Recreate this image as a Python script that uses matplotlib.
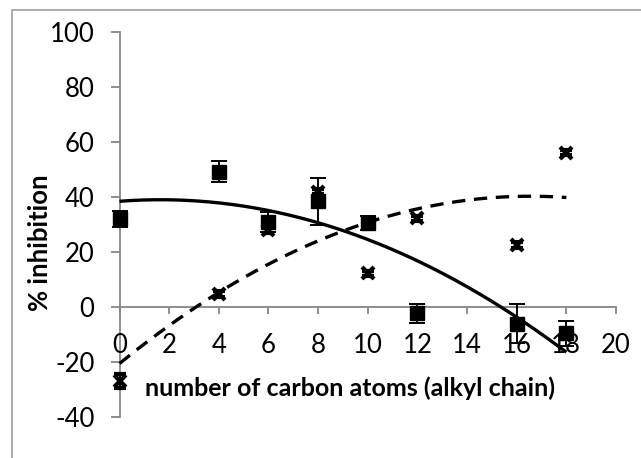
import numpy as np
import matplotlib
matplotlib.use("Agg")
import matplotlib.pyplot as plt
from matplotlib.patches import Rectangle

# ---- data ----
carbons = [0, 4, 6, 8, 10, 12, 16, 18]
sq_values = [32, 49.3, 31, 38.5, 30.7, -2.3, -6, -9.6]
sq_errors = [3, 3.8, 3.5, 8.5, 2.5, 3.5, 7, 4.5]
x_values = [-27, 4.8, 28, 42, 12.3, 32.3, 22.6, 56.2]
x_errors = [2.5, 1, 1, 1, 1, 1, 1, 1]
x_ticks = [0, 2, 4, 6, 8, 10, 12, 14, 16, 18, 20]
y_ticks = [-40, -20, 0, 20, 40, 60, 80, 100]

plt.rcParams['font.family'] = ['Lato', 'DejaVu Sans']
plt.rcParams['axes.unicode_minus'] = False

W, H = 641, 458
fig = plt.figure(figsize=(W / 100, H / 100), dpi=100)
ax = fig.add_axes([119.5 / W, (H - 417) / H, 496.5 / W, (417 - 32.3) / H])

grey = '#868686'

# chart-area border
fig.patches.append(Rectangle((12 / W, -0.05), 1.2, (H - 10) / H + 0.05,
                             transform=fig.transFigure, fill=False,
                             edgecolor='#a6a6a6', linewidth=1.3))

# trendlines (2nd-order polynomial fits)
xs = np.linspace(min(carbons), max(carbons), 200)
c_sq = np.polyfit(carbons, sq_values, 2)
c_x = np.polyfit(carbons, x_values, 2)
ax.plot(xs, np.polyval(c_sq, xs), color='black', lw=2.4, zorder=4,
        solid_capstyle='butt', clip_on=False)
ax.plot(xs, np.polyval(c_x, xs), color='black', lw=2.4, zorder=4,
        dashes=(4, 2.6), clip_on=False)

# data points with error bars
eb1 = ax.errorbar(carbons, sq_values, yerr=sq_errors, fmt='s', color='black',
                  ms=10, ecolor='black', elinewidth=1.4, capsize=5.5,
                  capthick=1.4, zorder=5)
eb2 = ax.errorbar(carbons, x_values, yerr=x_errors, fmt='x', color='black',
                  ms=8.5, mew=3, ecolor='black', elinewidth=1.4, capsize=4,
                  capthick=1.4, zorder=5)
for eb in (eb1, eb2):
    for art in eb.get_children():
        art.set_clip_on(False)

ax.set_xlim(0, 20)
ax.set_ylim(-40, 100)
ax.set_xticks(x_ticks)
ax.set_yticks(y_ticks)

for s in ['top', 'right']:
    ax.spines[s].set_visible(False)
ax.spines['bottom'].set_position(('data', 0))
for s in ['bottom', 'left']:
    ax.spines[s].set_color(grey)
    ax.spines[s].set_linewidth(1.3)
    ax.spines[s].set_zorder(1)

ax.tick_params(axis='y', direction='out', length=6.5, width=1.3, color=grey,
               pad=11.5, labelsize=18.5)
ax.tick_params(axis='x', direction='out', length=5, width=1.3, color=grey,
               pad=13.5, labelsize=18.5)
for lbl in ax.get_xticklabels() + ax.get_yticklabels():
    lbl.set_zorder(1)
ax.patch.set_visible(False)

fig.text(40 / W, 1 - 243 / H, '% inhibition', rotation=90, fontsize=18.5,
         fontweight='bold', ha='center', va='center')
fig.text(350 / W, 1 - 388 / H, 'number of carbon atoms (alkyl chain)',
         fontsize=18, fontweight='bold', ha='center', va='center')

fig.savefig('out.png', dpi=100)
